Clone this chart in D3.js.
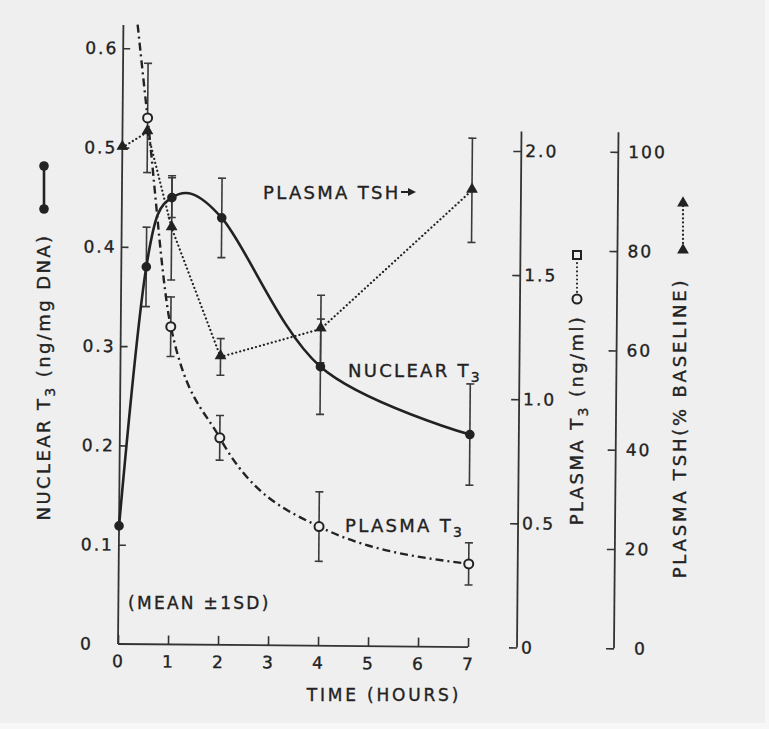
<!DOCTYPE html>
<html>
<head>
<meta charset="utf-8">
<script src="https://cdn.jsdelivr.net/npm/d3@7"></script>
<style>
html, body { margin: 0; padding: 0; background: #efefef; }
svg { display: block; }
text { font-family: "DejaVu Sans", sans-serif; fill: #222; stroke: #222; stroke-width: 0.35px; }
</style>
</head>
<body>
<svg width="769" height="729"></svg>
<script>
// values
var hours = [0, 0.5, 1, 2, 4, 7];
var nuclearT3 = [0.119, 0.38, 0.45, 0.43, 0.281, 0.214];
var nuclearSD = [0, 0.04, 0.02, 0.04, 0.048, 0.051];
var plasmaT3 = [3.0, 2.12, 1.28, 0.834, 0.48, 0.335];   // first value is off scale
var plasmaT3SD = [0, 0.22, 0.12, 0.09, 0.14, 0.085];
var plasmaTSH = [100, 103.2, 83.9, 58.0, 63.8, 92.0];
var plasmaTSHSD = [0, 0, 10.5, 3.7, 6.8, 10.5];

var timeTicks = [0, 1, 2, 3, 4, 5, 6, 7];
var nuclearTicks = [0.1, 0.2, 0.3, 0.4, 0.5, 0.6];
var t3Ticks = [0, 0.5, 1.0, 1.5, 2.0];
var tshTicks = [0, 20, 40, 60, 80, 100];

var INK = '#222';
var BG = '#efefef';

var svg = d3.select('svg');

var x = d3.scaleLinear().domain([0, 7]).range([118, 468]);
var yN = d3.scaleLinear().domain([0, 0.5]).range([644, 147.5]);
var yP = d3.scaleLinear().domain([0, 2]).range([644, 147.5]);
var yS = d3.scaleLinear().domain([0, 100]).range([644, 147.5]);

var T3_AXIS_X = 517;
var TSH_AXIS_X = 614;

// the scan is slightly tilted
var g = svg.append('g').attr('transform', 'rotate(0.5,118,645)');

svg.append('defs').append('clipPath').attr('id', 'top')
  .append('rect').attr('x', 0).attr('y', 22).attr('width', 769).attr('height', 700);

function styleAxis(sel) {
  sel.select('.domain').remove();
  sel.selectAll('line').attr('stroke', '#333').attr('stroke-width', 1.6);
  sel.selectAll('text')
    .style('font-size', '17px')
    .style('letter-spacing', '2px')
    .attr('fill', '#222');
}

// left axis (nuclear T3)
g.append('line')
  .attr('x1', x(0)).attr('x2', x(0)).attr('y1', yN(0)).attr('y2', 25)
  .attr('stroke', '#333').attr('stroke-width', 1.8);
var leftAxis = g.append('g').attr('transform', 'translate(' + x(0) + ',0)')
  .call(d3.axisLeft(yN).tickValues(nuclearTicks).tickSizeInner(-7).tickSizeOuter(0)
    .tickFormat(d3.format('.1f')));
styleAxis(leftAxis);
leftAxis.selectAll('text').attr('x', -38).attr('text-anchor', 'start');
g.append('text').attr('x', x(0) - 38).attr('y', yN(0)).attr('dy', '0.35em')
  .style('font-size', '17px').text('0');

// bottom axis (time)
g.append('line')
  .attr('x1', x(0)).attr('x2', x(7)).attr('y1', yN(0)).attr('y2', yN(0))
  .attr('stroke', '#333').attr('stroke-width', 1.8);
var bottomAxis = g.append('g').attr('transform', 'translate(0,' + yN(0) + ')')
  .call(d3.axisBottom(x).tickValues(timeTicks).tickSizeInner(-9).tickSizeOuter(0)
    .tickFormat(d3.format('d')));
styleAxis(bottomAxis);
bottomAxis.selectAll('text').attr('y', 11);

// plasma T3 axis
g.append('line')
  .attr('x1', T3_AXIS_X).attr('x2', T3_AXIS_X).attr('y1', yP(0)).attr('y2', 128)
  .attr('stroke', '#333').attr('stroke-width', 1.8);
var t3Axis = g.append('g').attr('transform', 'translate(' + T3_AXIS_X + ',0)')
  .call(d3.axisLeft(yP).tickValues(t3Ticks).tickSizeInner(8).tickSizeOuter(0)
    .tickFormat(function (d) { return d === 0 ? '0' : d.toFixed(1); }));
styleAxis(t3Axis);
t3Axis.selectAll('text').attr('x', 4).attr('text-anchor', 'start');

// plasma TSH axis
g.append('line')
  .attr('x1', TSH_AXIS_X).attr('x2', TSH_AXIS_X).attr('y1', yS(0)).attr('y2', 128)
  .attr('stroke', '#333').attr('stroke-width', 1.8);
var tshAxis = g.append('g').attr('transform', 'translate(' + TSH_AXIS_X + ',0)')
  .call(d3.axisLeft(yS).tickValues(tshTicks).tickSizeInner(8).tickSizeOuter(0));
styleAxis(tshAxis);
tshAxis.selectAll('text')
  .attr('x', function (d) { return d === 0 ? 20 : 10; })
  .attr('text-anchor', 'start');

// error bars
function errorBars(values, sds, yScale) {
  var pts = hours.map(function (h, i) { return { h: h, v: values[i], sd: sds[i] }; })
    .filter(function (d) { return d.sd > 0; });
  var eb = g.append('g').attr('stroke', '#3a3a3a').attr('stroke-width', 1.6);
  pts.forEach(function (d) {
    var cx = x(d.h), y1 = yScale(d.v - d.sd), y2 = yScale(d.v + d.sd);
    eb.append('line').attr('x1', cx).attr('x2', cx).attr('y1', y1).attr('y2', y2);
    eb.append('line').attr('x1', cx - 4).attr('x2', cx + 4).attr('y1', y1).attr('y2', y1);
    eb.append('line').attr('x1', cx - 4).attr('x2', cx + 4).attr('y1', y2).attr('y2', y2);
  });
}
errorBars(nuclearT3, nuclearSD, yN);
errorBars(plasmaT3, plasmaT3SD, yP);
errorBars(plasmaTSH, plasmaTSHSD, yS);

// plasma TSH: dotted straight segments
var tshLine = d3.line()
  .x(function (d, i) { return x(hours[i]); })
  .y(function (d) { return yS(d); });
g.append('path').datum(plasmaTSH)
  .attr('d', tshLine)
  .attr('fill', 'none').attr('stroke', INK).attr('stroke-width', 2.2)
  .attr('stroke-dasharray', '0.1,4').attr('stroke-linecap', 'round');

// plasma T3: dash-dot smooth curve
var t3Line = d3.line()
  .x(function (d, i) { return x(hours[i]); })
  .y(function (d) { return yP(d); })
  .curve(d3.curveMonotoneX);
g.append('path').datum(plasmaT3)
  .attr('d', t3Line)
  .attr('clip-path', 'url(#top)')
  .attr('fill', 'none').attr('stroke', INK).attr('stroke-width', 2.4)
  .attr('stroke-dasharray', '8,4,2,4');

// nuclear T3: solid smooth curve
var nucLine = d3.line()
  .x(function (d, i) { return x(hours[i]); })
  .y(function (d) { return yN(d); })
  .curve(d3.curveCardinal.tension(0));
g.append('path').datum(nuclearT3)
  .attr('d', nucLine)
  .attr('fill', 'none').attr('stroke', INK).attr('stroke-width', 2.6);

// markers
g.selectAll('.tri').data(plasmaTSH).enter().append('path')
  .attr('class', 'tri')
  .attr('transform', function (d, i) { return 'translate(' + x(hours[i]) + ',' + (yS(d) - 1) + ')'; })
  .attr('d', d3.symbol(d3.symbolTriangle, 60))
  .attr('fill', INK);

g.selectAll('.nuc').data(nuclearT3).enter().append('circle')
  .attr('class', 'nuc')
  .attr('cx', function (d, i) { return x(hours[i]); })
  .attr('cy', function (d) { return yN(d); })
  .attr('r', 4.8).attr('fill', INK);

g.selectAll('.pt3').data(plasmaT3).enter()
  .filter(function (d) { return d <= 2.5; })
  .append('circle')
  .attr('class', 'pt3')
  .attr('cx', function (d) { return x(hours[plasmaT3.indexOf(d)]); })
  .attr('cy', function (d) { return yP(d); })
  .attr('r', 4.5).attr('fill', BG).attr('stroke', INK).attr('stroke-width', 2);

// in-plot labels
function label(txt, px, py, size, sub) {
  var t = svg.append('text').attr('x', px).attr('y', py)
    .style('font-size', size + 'px').style('letter-spacing', '2.3px').text(txt);
  if (sub) {
    t.append('tspan').attr('dy', 5).style('font-size', (size - 4) + 'px').text(sub);
  }
  return t;
}
label('PLASMA TSH', 263, 199, 18);
svg.append('path').attr('d', 'M401,192 L409,192').attr('stroke', INK).attr('stroke-width', 2);
svg.append('path').attr('d', 'M408,188 L416,192 L408,196 Z').attr('fill', INK);
label('NUCLEAR T', 348, 377, 18, '3');
label('PLASMA T', 345, 532, 18, '3');
label('(MEAN ±1SD)', 128, 609, 17);
svg.append('text').attr('x', 384).attr('y', 701).attr('text-anchor', 'middle')
  .style('font-size', '17px').style('letter-spacing', '2.8px').text('TIME (HOURS)');

// rotated axis titles: parts are [text, dy, size]
function vlabel(parts, cx, cy, spacing) {
  var t = svg.append('text')
    .attr('transform', 'translate(' + cx + ',' + cy + ') rotate(-90)')
    .attr('text-anchor', 'middle')
    .style('font-size', '18px').style('letter-spacing', spacing + 'px');
  parts.forEach(function (p) {
    var s = t.append('tspan').text(p[0]);
    if (p[1]) s.attr('dy', p[1]);
    if (p[2]) s.style('font-size', p[2] + 'px');
  });
}
vlabel([['NUCLEAR T'], ['3', 5, 14], [' (ng/mg DNA)', -5]], 50, 377, 2.4);
vlabel([['PLASMA T'], ['3', 5, 14], [' (ng/ml)', -5]], 583, 420, 2.4);
vlabel([['PLASMA TSH(% BASELINE)']], 686, 428, 2.8);

// legend keys next to axis titles
var key = svg.append('g');
key.append('line').attr('x1', 44).attr('x2', 44).attr('y1', 166).attr('y2', 209)
  .attr('stroke', INK).attr('stroke-width', 2.6);
key.append('circle').attr('cx', 44).attr('cy', 166).attr('r', 4.8).attr('fill', INK);
key.append('circle').attr('cx', 44).attr('cy', 209).attr('r', 4.8).attr('fill', INK);

key.append('line').attr('x1', 577).attr('x2', 577).attr('y1', 259).attr('y2', 294)
  .attr('stroke', INK).attr('stroke-width', 2).attr('stroke-dasharray', '0.1,4')
  .attr('stroke-linecap', 'round');
key.append('rect').attr('x', 573).attr('y', 251).attr('width', 8).attr('height', 8)
  .attr('fill', BG).attr('stroke', INK).attr('stroke-width', 2);
key.append('circle').attr('cx', 577).attr('cy', 299).attr('r', 4.5)
  .attr('fill', BG).attr('stroke', INK).attr('stroke-width', 2);

key.append('line').attr('x1', 683).attr('x2', 683).attr('y1', 206).attr('y2', 246)
  .attr('stroke', INK).attr('stroke-width', 2.2).attr('stroke-dasharray', '0.1,4')
  .attr('stroke-linecap', 'round');
key.append('path').attr('transform', 'translate(683,203)')
  .attr('d', d3.symbol(d3.symbolTriangle, 60)).attr('fill', INK);
key.append('path').attr('transform', 'translate(683,250)')
  .attr('d', d3.symbol(d3.symbolTriangle, 60)).attr('fill', INK);

// lighter scan border
svg.append('rect').attr('x', 0).attr('y', 723).attr('width', 769).attr('height', 6).attr('fill', '#f7f7f7');
svg.append('rect').attr('x', 765).attr('y', 0).attr('width', 4).attr('height', 729).attr('fill', '#f7f7f7');
</script>
</body>
</html>
